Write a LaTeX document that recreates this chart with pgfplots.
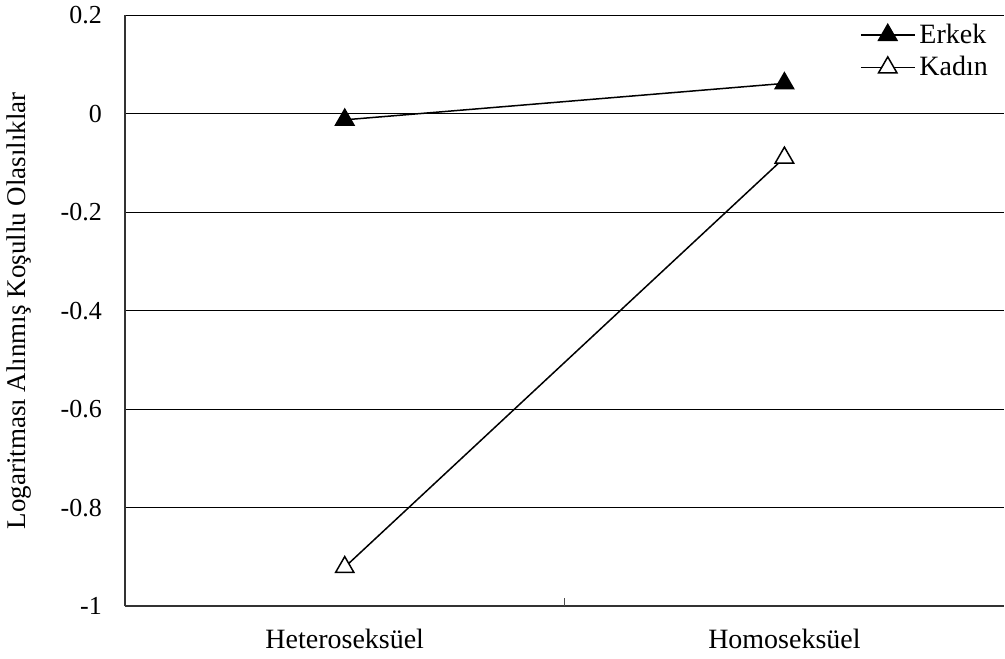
\documentclass[border=0pt]{standalone}
\usepackage{fontspec}
\setmainfont{Liberation Serif}
\usepackage{pgfplots}
\pgfplotsset{compat=1.18}
\usetikzlibrary{calc}

\begin{document}
\begin{tikzpicture}
\begin{axis}[
    scale only axis,
    width=440pt,
    height=295.5pt,
    xmin=0, xmax=2,
    ymin=-1, ymax=0.2,
    axis x line*=bottom,
    axis y line*=left,
    axis line style={-, line width=0.75pt, black!80},
    xtick={0.5,1.5},
    xticklabels={Heteroseksüel,Homoseksüel},
    major tick length=0pt,
    extra x ticks={1},
    extra x tick labels={},
    extra x tick style={major tick length=4pt, tick align=inside,
        tick style={black!70, line width=0.5pt}, grid=none},
    ytick={-1,-0.8,-0.6,-0.4,-0.2,0,0.2},
    yticklabels={-1,-0.8,-0.6,-0.4,-0.2,0,0.2},
    ymajorgrids=true,
    grid style={black, line width=0.5pt},
    yticklabel style={xshift=-8pt, font=\fontsize{13}{15}\selectfont},
    xticklabel style={yshift=-8pt, font=\fontsize{14}{16}\selectfont},
    ylabel={Logaritması Alınmış Koşullu Olasılıklar},
    every axis y label/.style={at={(axis description cs:-0.12,0.5)},
        rotate=90, anchor=center, font=\fontsize{13.5}{15}\selectfont},
    legend style={draw=none, fill=none, at={(1,1)}, anchor=north east,
        xshift=-3pt, yshift=0pt,
        font=\fontsize{14}{16}\selectfont, row sep=1pt,
        cells={anchor=west}},
    legend image code/.code={
        \draw[mark repeat=2, mark phase=2] plot coordinates {(0pt,0pt) (13.5pt,0pt) (27pt,0pt)};
    },
    clip=false,
]
\addplot[black, line width=0.75pt, mark=triangle*, mark size=5.3pt,
    mark options={fill=black, solid}] coordinates {
    (0.5, -0.012)
    (1.5, 0.062)
};
\addplot[black, line width=0.75pt, mark=triangle*, mark size=5.3pt,
    mark options={fill=white, solid}] coordinates {
    (0.5, -0.921)
    (1.5, -0.089)
};
\legend{Erkek, Kadın}
\end{axis}
\path[use as bounding box] ($(current axis.south west)+(-62.5pt,-26pt)$)
    rectangle ($(current axis.north east)+(0pt,7pt)$);
\end{tikzpicture}
\end{document}
